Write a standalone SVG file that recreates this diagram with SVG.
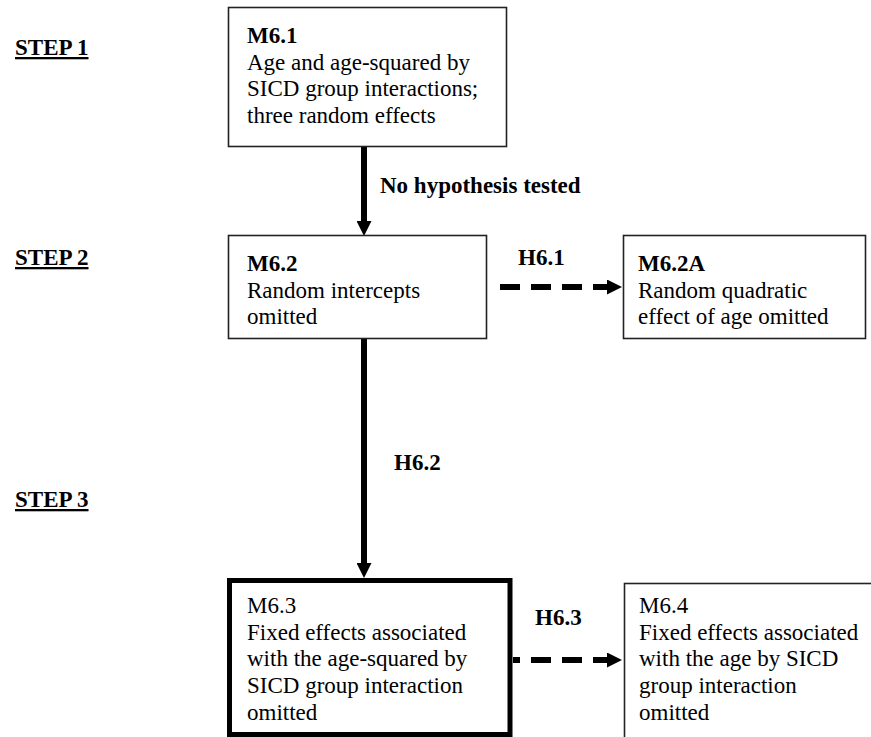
<svg xmlns="http://www.w3.org/2000/svg" width="871" height="737" viewBox="0 0 871 737">
<style>
text{font-family:"Liberation Serif","Times New Roman",serif;font-size:23px;fill:#000}
.b{font-weight:bold}
.step{font-weight:bold;text-decoration:underline}
.box{fill:#fff;stroke:#222;stroke-width:1.6}
.thick{fill:#fff;stroke:#000;stroke-width:5}
.conn{stroke:#000;stroke-width:6;fill:none}
.dash{stroke-dasharray:20 11}
</style>
<defs>
<marker id="ah" markerUnits="userSpaceOnUse" markerWidth="15" markerHeight="15" viewBox="0 0 15 15" refX="0" refY="7.5" orient="auto">
<path d="M0,0 L15,7.5 L0,15 z" fill="#000"/>
</marker>
</defs>
<rect width="871" height="737" fill="#fff"/>
<g id="steps">
<text class="step" x="15" y="55">STEP 1</text>
<text class="step" x="15" y="265">STEP 2</text>
<text class="step" x="15" y="507">STEP 3</text>
</g>
<g id="connectors">
<line class="conn" x1="364" y1="146" x2="364" y2="221" marker-end="url(#ah)"/>
<line class="conn" x1="364" y1="339" x2="364" y2="563" marker-end="url(#ah)"/>
<line class="conn dash" x1="500" y1="287" x2="607" y2="287" marker-end="url(#ah)"/>
<line class="conn dash" x1="513" y1="660" x2="607" y2="660" stroke-dashoffset="13" marker-end="url(#ah)"/>
<text class="b" x="380" y="193">No hypothesis tested</text>
<text class="b" x="518" y="265">H6.1</text>
<text class="b" x="394" y="470">H6.2</text>
<text class="b" x="535" y="625">H6.3</text>
</g>
<g id="M6.1">
<rect class="box" x="228.5" y="7.5" width="278" height="139"/>
<text class="b" x="247" y="43">M6.1</text>
<text x="247" y="69.5">Age and age-squared by</text>
<text x="247" y="96">SICD group interactions;</text>
<text x="247" y="122.5">three random effects</text>
</g>
<g id="M6.2">
<rect class="box" x="228.5" y="235.5" width="258" height="103"/>
<text class="b" x="247" y="271">M6.2</text>
<text x="247" y="297.5">Random intercepts</text>
<text x="247" y="324">omitted</text>
</g>
<g id="M6.2A">
<rect class="box" x="623.5" y="235.5" width="242" height="103"/>
<text class="b" x="638" y="271">M6.2A</text>
<text x="638" y="297.5">Random quadratic</text>
<text x="638" y="324">effect of age omitted</text>
</g>
<g id="M6.3">
<rect class="thick" x="229.5" y="580.5" width="280.5" height="154"/>
<text x="247" y="613">M6.3</text>
<text x="247" y="640">Fixed effects associated</text>
<text x="247" y="666">with the age-squared by</text>
<text x="247" y="693">SICD group interaction</text>
<text x="247" y="720">omitted</text>
</g>
<g id="M6.4">
<rect class="box" x="624.5" y="583.5" width="300" height="200"/>
<text x="639" y="613">M6.4</text>
<text x="639" y="640">Fixed effects associated</text>
<text x="639" y="666">with the age by SICD</text>
<text x="639" y="693">group interaction</text>
<text x="639" y="720">omitted</text>
</g>
</svg>
